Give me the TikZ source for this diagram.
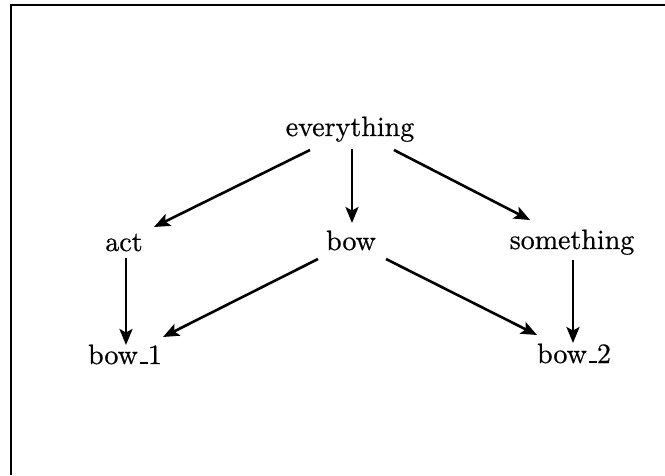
\documentclass[tikz,border=0pt]{standalone}
\usepackage{fontspec}
\setmainfont{lmroman10-regular.otf}[FakeBold=0.6]
\usetikzlibrary{arrows.meta}
\newcommand{\usc}{\leavevmode\kern.06em\rule{.3em}{1.8pt}}
\begin{document}
\begin{tikzpicture}[x=1pt,y=-1pt,
  lbl/.style={anchor=base,inner sep=0pt,font=\fontsize{28}{33}\selectfont},
  arr/.style={line width=2.6pt,-{Stealth[length=16pt,width=13pt,inset=3.5pt]}}]
\useasboundingbox (0,0) rectangle (665,475);
\draw[line width=2pt] (11,475) -- (11,5) -- (665,5);
\node[lbl] (E) at (350,136) {everything};
\node[lbl] (act) at (124,251) {act};
\node[lbl] (bow) at (351,250) {bow};
\node[lbl] (some) at (572,249) {something};
\node[lbl] (b1) at (125,364) {bow\usc1};
\node[lbl] (b2) at (574,363) {bow\usc2};
\draw[arr] ([shift={(-40,14)}]E.base) -- ([shift={(30,-24)}]act.base);
\draw[arr] ([shift={(2,13)}]E.base) -- ([shift={(1,-27)}]bow.base);
\draw[arr] ([shift={(44,14)}]E.base) -- ([shift={(-42,-29)}]some.base);
\draw[arr] ([shift={(2,7)}]act.base) -- ([shift={(1,-19)}]b1.base);
\draw[arr] ([shift={(-33,9)}]bow.base) -- ([shift={(38,-27)}]b1.base);
\draw[arr] ([shift={(35,9)}]bow.base) -- ([shift={(-37,-28)}]b2.base);
\draw[arr] ([shift={(1,11)}]some.base) -- ([shift={(-1,-20)}]b2.base);
\end{tikzpicture}
\end{document}
